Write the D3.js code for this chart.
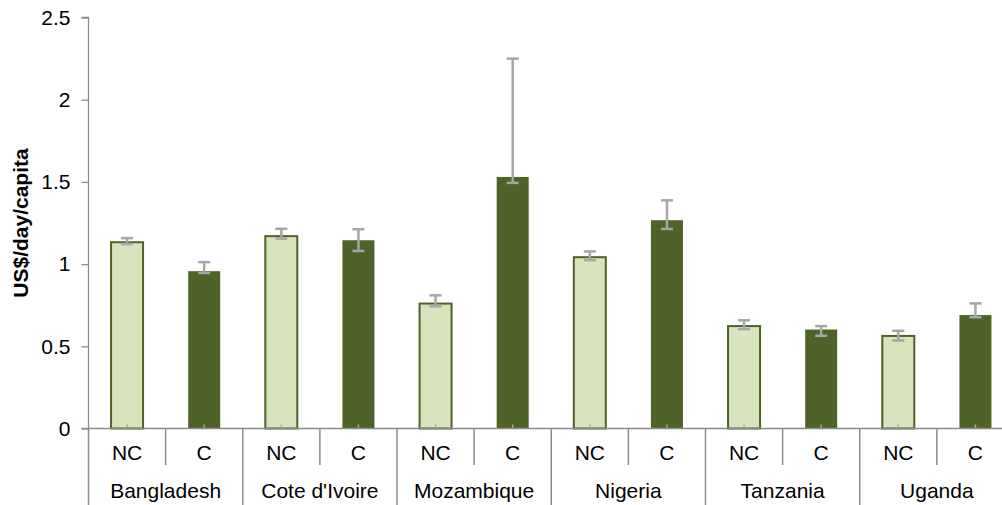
<!DOCTYPE html>
<html>
<head>
<meta charset="utf-8">
<script src="https://cdn.jsdelivr.net/npm/d3@7"></script>
<style>
  html, body { margin: 0; padding: 0; background: #fff; }
  svg { display: block; font-family: "Liberation Sans", Arial, sans-serif; }
</style>
</head>
<body>
<svg id="chart" width="1002" height="505"></svg>
<script>
// Countries and the two household groups shown within each
const countries = ["Bangladesh", "Cote d'Ivoire", "Mozambique", "Nigeria", "Tanzania", "Uganda"];
const groups = ["NC", "C"];

// Mean expenditure, US$/day/capita
const ncValues = [1.133, 1.17, 0.76, 1.042, 0.623, 0.563];
const cValues  = [0.957, 1.145, 1.53, 1.267, 0.602, 0.69];

// Error bar bounds
const ncHigh = [1.158, 1.215, 0.81, 1.077, 0.658, 0.594];
const ncLow  = [1.122, 1.155, 0.743, 1.024, 0.605, 0.535];
const cHigh  = [1.012, 1.212, 2.25, 1.388, 0.623, 0.761];
const cLow   = [0.946, 1.08, 1.494, 1.214, 0.564, 0.677];

const yTicks = [0, 0.5, 1, 1.5, 2, 2.5];
const yTickLabels = ["0", "0.5", "1", "1.5", "2", "2.5"];
const yTitle = "US$/day/capita";

// Flatten into one row per bar
const rows = [];
countries.forEach((c, i) => {
  rows.push({ country: c, group: groups[0], key: c + "|NC", value: ncValues[i], hi: ncHigh[i], lo: ncLow[i] });
  rows.push({ country: c, group: groups[1], key: c + "|C",  value: cValues[i],  hi: cHigh[i],  lo: cLow[i] });
});

const svg = d3.select("#chart");
const plotLeft = 88.5, plotRight = 1014, plotTop = 17.5, plotBase = 428.5;

const y = d3.scaleLinear().domain([0, 2.5]).range([plotBase, plotTop]);
const xCat = d3.scaleBand().domain(rows.map(d => d.key)).range([plotLeft, plotRight]).paddingInner(0.585).paddingOuter(0.2925);
const xGroup = d3.scaleBand().domain(countries).range([plotLeft, plotRight]);
const step = xCat.step();

const axisColor = "#8c8c8c";
const lightFill = "#d7e4bd", darkFill = "#4f6228", barStroke = "#4f6228";
const errColor = "#a6a6a6";
const fontSize = 21;

// Y axis
const yAxis = d3.axisLeft(y).tickValues(yTicks).tickFormat((d, i) => yTickLabels[i]).tickSize(7).tickPadding(11);
const gy = svg.append("g").attr("transform", `translate(${plotLeft},0)`).call(yAxis);
gy.select(".domain").attr("stroke", axisColor).attr("stroke-width", 1.3).attr("d", `M-7,${plotTop}H0V${plotBase}`);
gy.selectAll(".tick line").attr("stroke", axisColor).attr("stroke-width", 1.3);
gy.selectAll(".tick text").attr("fill", "#000").style("font-size", fontSize + "px").style("font-family", "Liberation Sans, Arial, sans-serif");

// Y title
svg.append("text")
  .attr("transform", `translate(28,${(plotTop + plotBase) / 2}) rotate(-90)`)
  .attr("text-anchor", "middle")
  .style("font-size", fontSize + "px")
  .style("font-weight", "bold")
  .text(yTitle);

// Bars
svg.append("g").selectAll("rect").data(rows).join("rect")
  .attr("x", d => xCat(d.key))
  .attr("y", d => y(d.value))
  .attr("width", xCat.bandwidth())
  .attr("height", d => y(0) - y(d.value))
  .attr("fill", d => d.group === "NC" ? lightFill : darkFill)
  .attr("stroke", d => d.group === "NC" ? barStroke : "none")
  .attr("stroke-width", 2);

// Error bars
const capW = 12;
const eg = svg.append("g").attr("stroke", errColor).attr("stroke-width", 2.5);
rows.forEach(d => {
  const cx = xCat(d.key) + xCat.bandwidth() / 2;
  eg.append("line").attr("x1", cx).attr("x2", cx).attr("y1", y(d.hi)).attr("y2", y(d.lo));
  eg.append("line").attr("x1", cx - capW / 2).attr("x2", cx + capW / 2).attr("y1", y(d.hi)).attr("y2", y(d.hi));
  eg.append("line").attr("x1", cx - capW / 2).attr("x2", cx + capW / 2).attr("y1", y(d.lo)).attr("y2", y(d.lo));
  // stub at the baseline
  eg.append("line").attr("x1", cx).attr("x2", cx).attr("y1", y(0)).attr("y2", y(0) - 4).attr("stroke-width", 1.5);
});

// X axis line
svg.append("line").attr("x1", plotLeft - 7).attr("x2", plotRight).attr("y1", plotBase).attr("y2", plotBase)
  .attr("stroke", axisColor).attr("stroke-width", 1.5);

// Separators: short ones between groups, long ones between countries
const sep = svg.append("g").attr("stroke", axisColor).attr("stroke-width", 1.5);
rows.forEach(d => {
  if (d.group === "C") {
    const xl = xCat(d.key) - (step - xCat.bandwidth()) / 2;
    sep.append("line").attr("x1", xl).attr("x2", xl).attr("y1", plotBase).attr("y2", 465);
  }
});
countries.forEach(c => {
  const xl = xGroup(c);
  sep.append("line").attr("x1", xl).attr("x2", xl).attr("y1", plotBase).attr("y2", 505);
});

// Group labels
svg.append("g").selectAll("text").data(rows).join("text")
  .attr("x", d => xCat(d.key) + xCat.bandwidth() / 2)
  .attr("y", 460)
  .attr("text-anchor", "middle")
  .style("font-size", fontSize + "px")
  .text(d => d.group);

// Country labels
svg.append("g").selectAll("text").data(countries).join("text")
  .attr("x", d => xGroup(d) + xGroup.bandwidth() / 2)
  .attr("y", 498)
  .attr("text-anchor", "middle")
  .style("font-size", fontSize + "px")
  .text(d => d);
</script>
</body>
</html>
